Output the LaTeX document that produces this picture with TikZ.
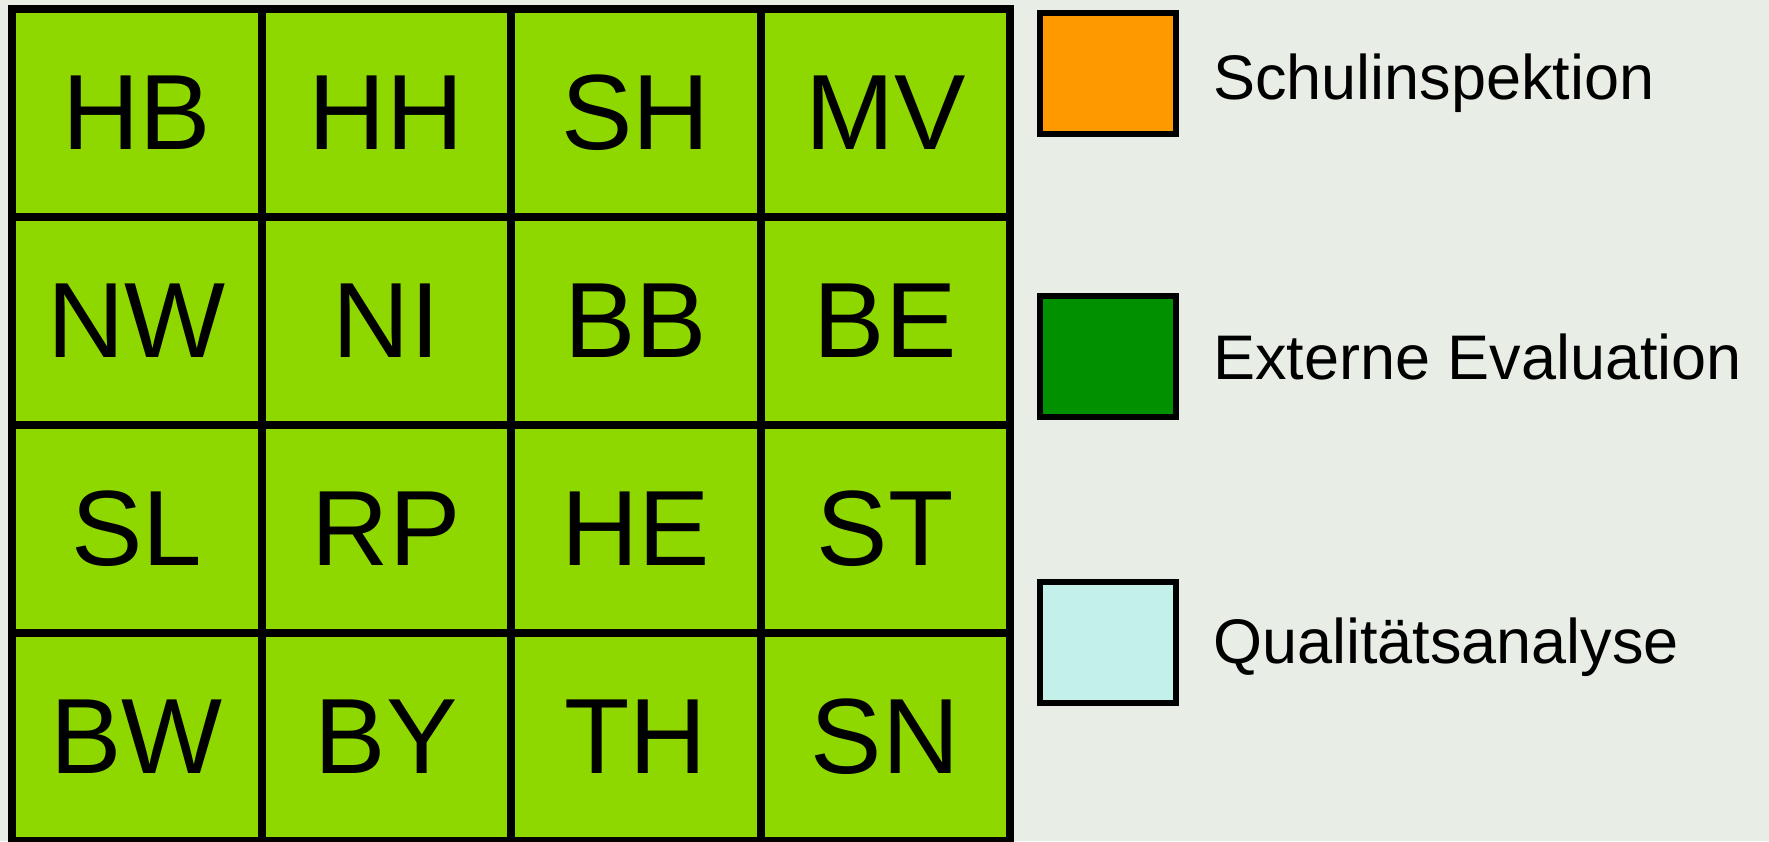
\documentclass[tikz,border=0pt]{standalone}
\usepackage{fontspec}
\setmainfont{Liberation Sans}
\definecolor{bgc}{RGB}{232,237,230}
\definecolor{cellc}{RGB}{142,216,0}
\definecolor{orangec}{RGB}{255,153,0}
\definecolor{greenc}{RGB}{0,144,0}
\definecolor{cyanc}{RGB}{196,240,234}
\begin{document}
\begin{tikzpicture}[x=1pt,y=-1pt,
  cell/.style={draw=black,line width=8pt,fill=cellc,minimum width=249.5pt,minimum height=208pt,inner sep=0pt,outer sep=0pt,font=\fontsize{107}{120}\selectfont},
  legbox/.style={draw=black,line width=6pt,minimum width=136pt,minimum height=121pt,inner sep=0pt},
  leglabel/.style={anchor=base west,inner sep=0pt,font=\fontsize{63}{70}\selectfont}]
\useasboundingbox[fill=bgc] (0,0) rectangle (1769,841);
% grid
\foreach \r/\row in {0/{HB,HH,SH,MV},1/{NW,NI,BB,BE},2/{SL,RP,HE,ST},3/{BW,BY,TH,SN}}{
  \foreach \t [count=\c from 0] in \row {
    \node[cell] (c\r\c) at ({12+249.5*(\c+0.5)},{9+208*(\r+0.5)}) {\t};
  }
}
% legend
\node[legbox,fill=orangec] (l1) at (1108,73.5) {};
\node[legbox,fill=greenc] (l2) at (1108,356) {};
\node[legbox,fill=cyanc] (l3) at (1108,642.5) {};
\node[leglabel] (t1) at (1213,99) {Schulinspektion};
\node[leglabel] (t2) at (1213,379) {Externe Evaluation};
\node[leglabel] (t3) at (1213,663) {Qualitätsanalyse};
\end{tikzpicture}
\end{document}
